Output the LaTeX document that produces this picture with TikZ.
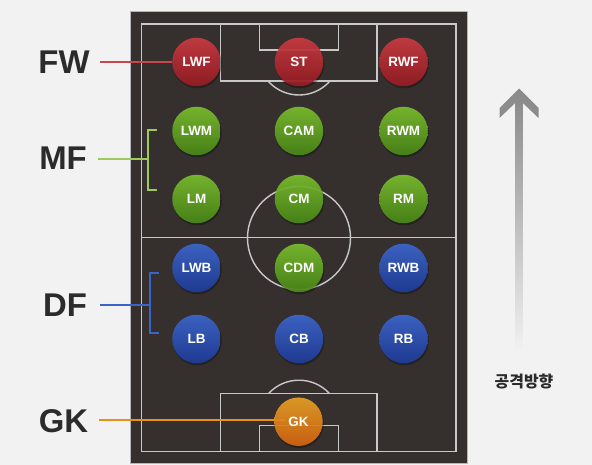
\documentclass[tikz,border=0pt]{standalone}
\usepackage{fontspec}
\setmainfont{Liberation Sans}
\newfontfamily\kr{Noto Sans CJK KR}
\usetikzlibrary{shadings}
\definecolor{bgc}{HTML}{F2F2F2}
\definecolor{pitchc}{HTML}{35302E}
\definecolor{pitchb}{HTML}{B4B4BC}
\definecolor{linec}{HTML}{C8C8C8}
\definecolor{redt}{HTML}{CF3C43}
\definecolor{redb}{HTML}{981C23}
\definecolor{grnt}{HTML}{7EC22E}
\definecolor{grnb}{HTML}{4A8A17}
\definecolor{blut}{HTML}{3E69D2}
\definecolor{blub}{HTML}{1E3C9C}
\definecolor{orat}{HTML}{ECA626}
\definecolor{orab}{HTML}{DA6510}
\definecolor{labc}{HTML}{2B2B2B}
\definecolor{fwl}{HTML}{C8464C}
\definecolor{mfl}{HTML}{9CCB5C}
\definecolor{dfl}{HTML}{3A64C8}
\definecolor{gkl}{HTML}{E8901A}
\definecolor{arrc}{HTML}{8C8C8C}
\tikzset{
  pline/.style={draw=linec,line width=1.4bp},
  player/.style={circle,minimum size=48.5bp,inner sep=0pt,text=white,
    font=\fontsize{13.5}{13.5}\selectfont\bfseries,fill opacity=0.9,text opacity=1},
  fwp/.style={player,top color=redt,bottom color=redb},
  mfp/.style={player,top color=grnt,bottom color=grnb},
  dfp/.style={player,top color=blut,bottom color=blub},
  gkp/.style={player,top color=orat,bottom color=orab},
  poslab/.style={inner sep=0pt,text=labc,font=\fontsize{33}{33}\selectfont\bfseries},
  conn/.style={line width=2bp},
}
\begin{document}
\begin{tikzpicture}[x=1bp,y=-1bp]
\useasboundingbox (0,0) rectangle (592,465);
\fill[bgc] (0,0) rectangle (592,465);
% pitch
\draw[pitchb,fill=pitchc,line width=1bp] (130,11.5) rectangle (467,463.5);
\draw[pline] (141.7,24) rectangle (456,451.7);
\draw[pline] (141.7,237.8) -- (456,237.8);
\draw[pline] (299,238) circle (51.5);
\draw[pline] (220.7,24) rectangle (377,81);
\draw[pline] (259.3,24) rectangle (338.3,50);
\begin{scope}
  \clip (215,81) rectangle (383,110);
  \draw[pline] (299,53.7) circle (41.3);
\end{scope}
\draw[pline] (220.7,393.3) rectangle (377,451.7);
\draw[pline] (259.3,425.7) rectangle (338.3,451.7);
\begin{scope}
  \clip (215,365) rectangle (383,393.3);
  \draw[pline] (299,421.7) circle (41.5);
\end{scope}
% labels
\node[poslab] (fw) at (64,62) {FW};
\node[poslab] (mf) at (63,158) {MF};
\node[poslab] (df) at (65,305) {DF};
\node[poslab] (gk) at (63.5,421) {GK};
% connectors
\coordinate (mfj) at (147.5,159.5);
\coordinate (mft) at (157,130.5);
\coordinate (mfb) at (157,190.5);
\draw[conn,draw=mfl] ([xshift=11bp]mf.east |- mfj) -- (mfj);
\draw[conn,draw=mfl] (mft) -| (mfj) |- (mfb);
\coordinate (dfj) at (149.5,304.5);
\coordinate (dft) at (158.5,272.7);
\coordinate (dfb) at (158.5,332.7);
\draw[conn,draw=dfl] ([xshift=13bp]df.east |- dfj) -- (dfj);
\draw[conn,draw=dfl] (dft) -| (dfj) |- (dfb);
\coordinate (gkend) at (285,420);
\draw[conn,draw=gkl] ([xshift=10.5bp]gk.east |- gkend) -- (gkend);
% shadows
\foreach \px/\py in {196.5/62,299/62,403.5/62,196.5/131,299/131,403.5/131,196.5/199,299/199,403.5/199,196.5/268,299/268,403.5/268,196.5/339,299/339,403.5/339,298.5/421.7}
  \fill[black,opacity=0.3] (\px+0.8,\py+1.8) circle (24.5);
% players
\node[fwp] (lwf) at (196.5,62) {LWF};
\node[fwp] (st)  at (299,62)   {ST};
\node[fwp] (rwf) at (403.5,62) {RWF};
\node[mfp] (lwm) at (196.5,131) {LWM};
\node[mfp] (cam) at (299,131)   {CAM};
\node[mfp] (rwm) at (403.5,131) {RWM};
\node[mfp] (lm)  at (196.5,199) {LM};
\node[mfp] (cm)  at (299,199)   {CM};
\node[mfp] (rm)  at (403.5,199) {RM};
\node[dfp] (lwb) at (196.5,268) {LWB};
\node[mfp] (cdm) at (299,268)   {CDM};
\node[dfp] (rwb) at (403.5,268) {RWB};
\node[dfp] (lb)  at (196.5,339) {LB};
\node[dfp] (cb)  at (299,339)   {CB};
\node[dfp] (rb)  at (403.5,339) {RB};
\node[gkp] (gkp) at (298.5,421.7) {GK};
\draw[conn,draw=fwl] ([xshift=10bp]fw.east |- 0,62) -- (lwf.west);
% attack direction arrow
\shade[top color=arrc,bottom color=bgc] (515.6,101) rectangle (522.4,352);
\fill[arrc] (519,88.5) -- (499.5,108) -- (499.5,118) -- (515.6,102.6) -- (522.4,102.6) -- (538.5,118) -- (538.5,108) -- cycle;
\node[inner sep=0pt,text=labc,font=\kr\bfseries\fontsize{16}{16}\selectfont] (dir) at (524,382) {공격방향};
\end{tikzpicture}
\end{document}
